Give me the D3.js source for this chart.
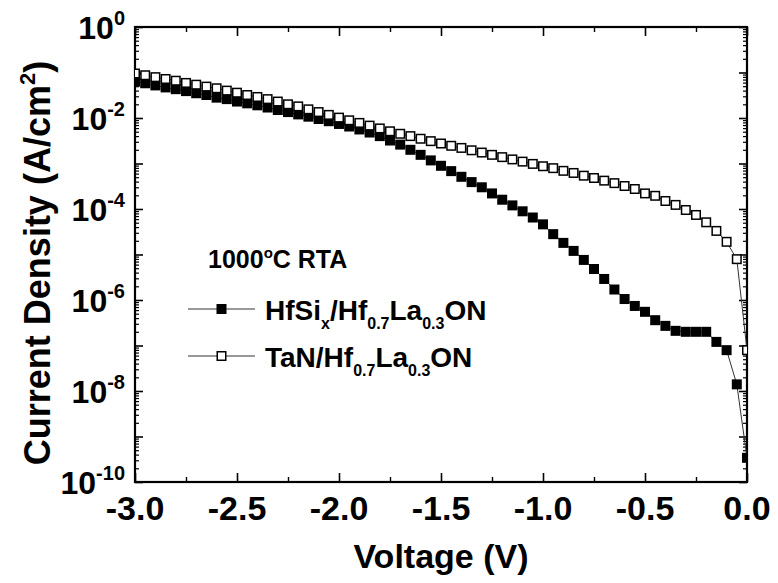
<!DOCTYPE html>
<html>
<head>
<meta charset="utf-8">
<script src="https://cdn.jsdelivr.net/npm/d3@7"></script>
<style>
  body { margin: 0; background: #fff; }
  svg { display: block; }
  text { font-family: "Liberation Sans", Arial, sans-serif; font-weight: bold; fill: #000; }
  .axis path, .axis line { stroke: #000; }
</style>
</head>
<body>
<div class="chart"></div>
<script>
var svgWidth = 778;
var svgHeight = 583;

var margin = { top: 27, right: 31, bottom: 101, left: 135 };
var width = svgWidth - margin.left - margin.right;
var height = svgHeight - margin.top - margin.bottom;

// voltage sweep, 0.05 V steps
var voltage = [
  -3.00, -2.95, -2.90, -2.85, -2.80, -2.75, -2.70, -2.65, -2.60, -2.55,
  -2.50, -2.45, -2.40, -2.35, -2.30, -2.25, -2.20, -2.15, -2.10, -2.05,
  -2.00, -1.95, -1.90, -1.85, -1.80, -1.75, -1.70, -1.65, -1.60, -1.55,
  -1.50, -1.45, -1.40, -1.35, -1.30, -1.25, -1.20, -1.15, -1.10, -1.05,
  -1.00, -0.95, -0.90, -0.85, -0.80, -0.75, -0.70, -0.65, -0.60, -0.55,
  -0.50, -0.45, -0.40, -0.35, -0.30, -0.25, -0.20, -0.15, -0.10, -0.05,
  0.00
];

// HfSix / Hf0.7La0.3ON (filled squares), A/cm^2
var hfsiJ = [
  6.3e-2, 5.8e-2, 5.2e-2, 4.7e-2, 4.3e-2, 3.9e-2, 3.5e-2, 3.2e-2, 2.8e-2, 2.6e-2,
  2.3e-2, 2.1e-2, 1.9e-2, 1.7e-2, 1.5e-2, 1.35e-2, 1.2e-2, 1.07e-2, 9.5e-3, 8.5e-3,
  7.4e-3, 6.5e-3, 5.6e-3, 4.8e-3, 4.0e-3, 3.2e-3, 2.6e-3, 2.0e-3, 1.55e-3, 1.17e-3,
  8.9e-4, 6.8e-4, 5.1e-4, 3.9e-4, 3.0e-4, 2.2e-4, 1.6e-4, 1.2e-4, 8.9e-5, 6.5e-5,
  4.6e-5, 2.8e-5, 1.8e-5, 1.2e-5, 7.6e-6, 4.8e-6, 2.9e-6, 1.7e-6, 1.05e-6, 7.4e-7,
  5.5e-7, 3.6e-7, 2.7e-7, 2.1e-7, 2.0e-7, 2.0e-7, 2.0e-7, 1.2e-7, 7.9e-8, 1.4e-8,
  3.4e-10
];

// TaN / Hf0.7La0.3ON (open squares), A/cm^2
var tanJ = [
  9.5e-2, 8.7e-2, 7.9e-2, 7.2e-2, 6.6e-2, 5.9e-2, 5.4e-2, 4.9e-2, 4.5e-2, 4.0e-2,
  3.6e-2, 3.2e-2, 2.9e-2, 2.6e-2, 2.3e-2, 2.0e-2, 1.8e-2, 1.55e-2, 1.35e-2, 1.17e-2,
  1.02e-2, 8.9e-3, 7.8e-3, 6.8e-3, 5.9e-3, 5.1e-3, 4.5e-3, 4.0e-3, 3.5e-3, 3.1e-3,
  2.75e-3, 2.45e-3, 2.2e-3, 1.95e-3, 1.74e-3, 1.55e-3, 1.38e-3, 1.23e-3, 1.1e-3, 9.8e-4,
  8.7e-4, 7.9e-4, 6.9e-4, 6.2e-4, 5.4e-4, 4.8e-4, 4.2e-4, 3.7e-4, 3.2e-4, 2.75e-4,
  2.2e-4, 1.95e-4, 1.5e-4, 1.23e-4, 9.5e-5, 7.4e-5, 5.1e-5, 3.3e-5, 1.9e-5, 7.9e-6,
  7.9e-8
];

var xMajor = [-3.0, -2.5, -2.0, -1.5, -1.0, -0.5, 0.0];
var xMinor = [-2.75, -2.25, -1.75, -1.25, -0.75, -0.25];
var yDecades = [1e0, 1e-1, 1e-2, 1e-3, 1e-4, 1e-5, 1e-6, 1e-7, 1e-8, 1e-9, 1e-10];
var yLabelExp = [0, -2, -4, -6, -8, -10];

var svg = d3.select(".chart")
  .append("svg")
  .attr("width", svgWidth)
  .attr("height", svgHeight);

var chartGroup = svg.append("g")
  .attr("transform", `translate(${margin.left}, ${margin.top})`);

var xScale = d3.scaleLinear().domain([-3, 0]).range([0, width]);
var yScale = d3.scaleLog().domain([1e-10, 1]).range([height, 0]);

// minor log ticks 2..9 in every decade
var yMinor = [];
yDecades.slice(1).forEach(function (d) {
  for (var k = 2; k <= 9; k++) yMinor.push(d * k);
});

function styleAxis(g, w) {
  g.select(".domain").remove();
  g.selectAll("line").attr("stroke-width", w);
  g.selectAll("text").remove();
}

// ticks (inward) on all four sides
chartGroup.append("g").attr("class", "axis")
  .attr("transform", `translate(0, ${height})`)
  .call(d3.axisBottom(xScale).tickValues(xMajor).tickSize(-9))
  .call(styleAxis, 1.6);
chartGroup.append("g").attr("class", "axis")
  .attr("transform", `translate(0, ${height})`)
  .call(d3.axisBottom(xScale).tickValues(xMinor).tickSize(-5))
  .call(styleAxis, 1.4);
chartGroup.append("g").attr("class", "axis")
  .call(d3.axisTop(xScale).tickValues(xMajor).tickSize(-9))
  .call(styleAxis, 1.6);
chartGroup.append("g").attr("class", "axis")
  .call(d3.axisTop(xScale).tickValues(xMinor).tickSize(-5))
  .call(styleAxis, 1.4);

chartGroup.append("g").attr("class", "axis")
  .call(d3.axisLeft(yScale).tickValues(yDecades).tickSize(-8))
  .call(styleAxis, 1.6);
chartGroup.append("g").attr("class", "axis")
  .call(d3.axisLeft(yScale).tickValues(yMinor).tickSize(-4))
  .call(styleAxis, 1.2);
chartGroup.append("g").attr("class", "axis")
  .attr("transform", `translate(${width}, 0)`)
  .call(d3.axisRight(yScale).tickValues(yDecades).tickSize(-8))
  .call(styleAxis, 1.6);
chartGroup.append("g").attr("class", "axis")
  .attr("transform", `translate(${width}, 0)`)
  .call(d3.axisRight(yScale).tickValues(yMinor).tickSize(-4))
  .call(styleAxis, 1.2);

// frame
chartGroup.append("rect")
  .attr("width", width)
  .attr("height", height)
  .attr("fill", "none")
  .attr("stroke", "#000")
  .attr("stroke-width", 2.2);

// x tick labels
chartGroup.selectAll(".xlab")
  .data(xMajor)
  .enter()
  .append("text")
  .attr("class", "xlab")
  .attr("x", d => xScale(d))
  .attr("y", height + 38)
  .attr("text-anchor", "middle")
  .style("font-size", "34px")
  .text(d => d.toFixed(1));

// y tick labels 10^n
var ylab = chartGroup.selectAll(".ylab")
  .data(yLabelExp)
  .enter()
  .append("text")
  .attr("class", "ylab")
  .attr("x", -10)
  .attr("y", d => yScale(Math.pow(10, d)) + 11.5)
  .attr("text-anchor", "end")
  .style("font-size", "32px");
ylab.append("tspan").text("10");
ylab.append("tspan")
  .attr("dy", -13.5)
  .style("font-size", "20px")
  .text(d => d === 0 ? "0" : String(d));

// clip for data marks
svg.append("clipPath").attr("id", "plotclip")
  .append("rect").attr("width", width).attr("height", height);

var plot = chartGroup.append("g").attr("clip-path", "url(#plotclip)");

var lineGen = d3.line()
  .x(d => xScale(d[0]))
  .y(d => yScale(d[1]));

var hfsiData = voltage.map((v, i) => [v, hfsiJ[i]]);
var tanData = voltage.map((v, i) => [v, tanJ[i]]);

var ms = 10;

plot.append("path")
  .datum(hfsiData)
  .attr("d", lineGen)
  .attr("fill", "none")
  .attr("stroke", "#333")
  .attr("stroke-width", 1);

plot.selectAll(".hfsi")
  .data(hfsiData)
  .enter()
  .append("rect")
  .attr("class", "hfsi")
  .attr("x", d => xScale(d[0]) - ms / 2)
  .attr("y", d => yScale(d[1]) - ms / 2)
  .attr("width", ms)
  .attr("height", ms)
  .attr("fill", "#000");

plot.append("path")
  .datum(tanData)
  .attr("d", lineGen)
  .attr("fill", "none")
  .attr("stroke", "#333")
  .attr("stroke-width", 1);

plot.selectAll(".tan")
  .data(tanData)
  .enter()
  .append("rect")
  .attr("class", "tan")
  .attr("x", d => xScale(d[0]) - (ms - 1.5) / 2)
  .attr("y", d => yScale(d[1]) - (ms - 1.5) / 2)
  .attr("width", ms - 1.5)
  .attr("height", ms - 1.5)
  .attr("fill", "#fff")
  .attr("stroke", "#000")
  .attr("stroke-width", 1.5);

// axis titles
svg.append("text")
  .attr("x", margin.left + width / 2)
  .attr("y", 568)
  .attr("text-anchor", "middle")
  .style("font-size", "34px")
  .text("Voltage (V)");

var ytitle = svg.append("text")
  .attr("transform", "translate(50, 263) rotate(-90)")
  .attr("text-anchor", "middle")
  .style("font-size", "36px");
ytitle.append("tspan").text("Current Density (A/cm");
ytitle.append("tspan").attr("dy", -15).style("font-size", "22px").text("2");
ytitle.append("tspan").attr("dy", 15).text(")");

// legend
var legend = svg.append("g");

var lt = legend.append("text")
  .attr("x", 208)
  .attr("y", 268)
  .style("font-size", "25px");
lt.append("tspan").text("1000");
lt.append("tspan").attr("dy", -10).style("font-size", "15px").text("o");
lt.append("tspan").attr("dy", 10).text("C RTA");

var legendRows = [
  { y: 309, filled: true, parts: [["HfSi", 0], ["x", 1], ["/Hf", 0], ["0.7", 1], ["La", 0], ["0.3", 1], ["ON", 0]] },
  { y: 356, filled: false, parts: [["TaN/Hf", 0], ["0.7", 1], ["La", 0], ["0.3", 1], ["ON", 0]] }
];

legendRows.forEach(function (row) {
  legend.append("line")
    .attr("x1", 188).attr("x2", 255)
    .attr("y1", row.y).attr("y2", row.y)
    .attr("stroke", "#333").attr("stroke-width", 1);
  if (row.filled) {
    legend.append("rect")
      .attr("x", 221.5 - ms / 2).attr("y", row.y - ms / 2)
      .attr("width", ms).attr("height", ms)
      .attr("fill", "#000");
  } else {
    legend.append("rect")
      .attr("x", 221.5 - (ms - 1.5) / 2).attr("y", row.y - (ms - 1.5) / 2)
      .attr("width", ms - 1.5).attr("height", ms - 1.5)
      .attr("fill", "#fff").attr("stroke", "#000").attr("stroke-width", 1.5);
  }
  var t = legend.append("text")
    .attr("x", 265)
    .attr("y", row.y + 11)
    .style("font-size", "28px");
  var sub = 0;
  row.parts.forEach(function (p) {
    var dy = 0;
    if (p[1] === 1 && sub === 0) dy = 9;
    if (p[1] === 0 && sub === 1) dy = -9;
    sub = p[1];
    t.append("tspan")
      .attr("dy", dy)
      .style("font-size", p[1] ? "16px" : "28px")
      .text(p[0]);
  });
});
</script>
</body>
</html>
